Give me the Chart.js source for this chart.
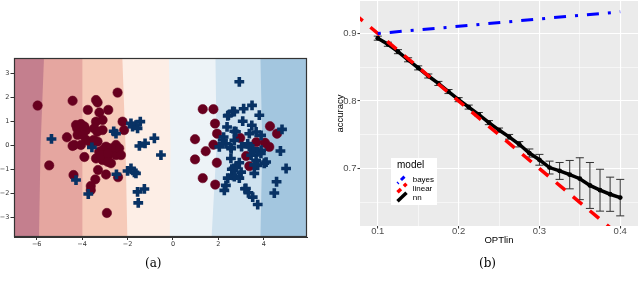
<!DOCTYPE html>
<html>
<head>
<meta charset="utf-8">
<script src="https://cdn.jsdelivr.net/npm/chart.js@4.4.0/dist/chart.umd.min.js"></script>
<style>
  html, body { margin: 0; padding: 0; background: #fff; }
  #wrap { position: relative; width: 640px; height: 288px; overflow: hidden; }
  .box { position: absolute; top: 0; width: 320px; height: 288px; }
  .cap { position: absolute; top: 256px; font-family: "DejaVu Serif", serif; font-size: 12px; color: #000; }
</style>
</head>
<body>
<div id="wrap">
  <div class="box" style="left:0"><canvas id="scatterChart"></canvas></div>
  <div class="box" style="left:320px"><canvas id="accuracyChart"></canvas></div>
  <div class="cap" style="left:145px">(a)</div>
  <div class="cap" style="left:479px">(b)</div>
</div>
<script>
// ---- panel (a): two classes over decision bands ----
var redX = [-5.96, -4.42, -2.44, -3.39, -3.32, -3.75, -3.24, -2.85, -4.05, -4.22, -3.90, -3.39, -3.47, -3.10,
            -4.67, -4.20, -4.35, -3.83, -3.61, -3.32, -2.95, -2.51, -3.90, -3.25, -2.88, -2.51, -2.73, -3.10,
            -3.30, -2.95, -2.42, -3.42, -3.62, -3.62, -4.38, -5.45, -2.91, -2.22, -2.15, -2.37, -2.29, -2.88,
            -4.27, -3.83, -3.33, -2.73, -3.09, -3.39, -4.05, -3.97, -3.49, -3.17, -2.87, -3.10, -4.42,
            1.31, 1.78, 1.85, 1.94, 0.97, 1.78, 1.44, 0.97, 1.93, 1.31, 1.86, 2.96, 3.67, 4.05, 4.24, 4.27,
            4.58, 3.22, 3.36];
var redY = [1.67, 1.87, 2.21, 1.90, 1.80, 1.49, 1.38, 1.49, 0.90, 0.72, 0.80, 1.00, 0.72, 0.65,
            0.35, 0.45, 0.03, 0.24, 0.10, 0.17, -0.04, 0.03, -0.47, -0.25, -0.46, -0.39, -0.73, -0.60,
            -1.01, -1.20, -1.31, -1.40, -1.68, -1.85, -1.22, -0.82, -2.80, 1.00, 0.65, -0.11, -0.39, -0.67,
            0.86, 0.65, 0.58, -0.11, -0.18, -0.53, 0.03, 0.45, 0.24, -0.39, -0.32, 1.07, -0.01,
            1.52, 1.52, 0.92, 0.50, 0.27, 0.04, -0.23, -0.57, -0.71, -1.35, -1.62, 0.32, 0.15, 0.12, -0.05, 0.81,
            0.50, -0.43, -0.85];
var blueX = [-5.35, -3.57, -2.61, -2.51, -1.78, -1.63, -1.44, -1.56, -1.85, -1.48, -1.23, -0.82, -0.53,
             -1.85, -1.70, -2.00, -1.63, -2.49, -4.27, -3.73, -1.56, -1.26, -1.53,
             2.92, 2.44, 2.63, 3.11, 3.48, 3.80, 3.07, 2.38, 2.70, 3.47, 3.66, 3.36, 3.88, 2.23, 2.33, 2.56,
             2.04, 2.70, 3.29, 3.51, 3.73, 3.88, 3.44, 4.73, 4.80, 4.98, 4.10, 3.66, 3.73, 2.92, 2.78, 2.59,
             3.00, 2.63, 2.92, 2.41, 2.33, 2.26, 3.17, 3.32, 3.51, 3.73, 4.56, 4.46, 2.70, 2.41, 2.77, 2.19,
             2.55, 3.02, 3.36, 3.55, 3.87, 4.02, 3.58, 2.67, 2.70, 3.21, 3.58, 2.55];
var blueY = [0.28, -0.07, 0.60, 0.50, 0.79, 0.86, 1.00, 0.72, 0.93, -0.01, 0.10, 0.31, -0.39,
             -0.94, -1.11, -1.05, -1.15, -1.19, -1.43, -2.01, -1.92, -1.80, -2.38,
             2.66, 1.27, 1.43, 1.54, 1.68, 1.27, 1.02, 0.78, 0.60, 0.85, 0.57, 0.50, 0.43, 0.36, 0.08, -0.13,
             -0.05, 0.22, 0.08, -0.13, -0.26, -0.19, -0.40, -0.22, 0.68, -0.95, -0.68, -0.61, -0.82, -0.71, -0.89, -0.98,
             -1.10, -1.23, -1.35, -1.35, -1.65, -1.86, -1.79, -1.96, -2.14, -2.45, -1.50, -1.97, 1.42, 1.24, 0.58, 0.24,
             -0.07, -0.04, -0.04, -0.25, -0.32, -0.73, -0.80, -0.94, -1.29, -1.78, -1.15, -0.53];
// band edges (x value at top of plot, at y = 0, at bottom of plot)
var bandEdgeTop    = [-7, -5.68, -3.99, -2.23, -0.18, 1.87, 3.85];
var bandEdgeMid    = [-7, -5.83, -3.99, -2.09, -0.11, 1.92, 3.93];
var bandEdgeBottom = [-7, -5.90, -3.99, -2.01, -0.14, 1.70, 3.85];
var bandColors = ["#c47f8e", "#e5a6a0", "#f6cab9", "#fdeee6", "#edf3f7", "#cfe2ef", "#a3c6df"];

// ---- panel (b): accuracy vs OPTlin ----
var optLin = [0.1, 0.1125, 0.125, 0.1375, 0.15, 0.1625, 0.175, 0.1875, 0.2, 0.2125, 0.225, 0.2375, 0.25,
              0.2625, 0.275, 0.2875, 0.3, 0.3125, 0.325, 0.3375, 0.35, 0.3625, 0.375, 0.3875, 0.4];
var nnAcc = [0.893, 0.884, 0.873, 0.861, 0.849, 0.837, 0.826, 0.814, 0.802, 0.791, 0.780, 0.768, 0.757,
             0.747, 0.736, 0.723, 0.713, 0.7015, 0.6965, 0.691, 0.685, 0.675, 0.668, 0.662, 0.657];
var nnErr = [0.003, 0.003, 0.003, 0.003, 0.003, 0.003, 0.003, 0.003, 0.003, 0.003, 0.003, 0.003, 0.003,
             0.0035, 0.004, 0.006, 0.008, 0.0095, 0.0125, 0.021, 0.031, 0.034, 0.031, 0.0253, 0.027];
var bayesX = [0.1, 0.2, 0.3, 0.4];
var bayesAcc = [0.9, 0.9105, 0.9215, 0.932];
var linearX = [0.07, 0.42];
var linearAcc = [0.93, 0.58];
var modelNames = ["bayes", "linear", "nn"];

function pts(xs, ys) {
    return xs.map(function (x, i) { return {x: x, y: ys[i]}; });
}
function minusFmt(v) {
    return v < 0 ? "\u2212" + Math.abs(v) : String(v);
}
function isMajor(v) {
    return Math.abs(v * 10 - Math.round(v * 10)) < 1e-6;
}
function noVPad(s) {
    s.paddingTop = 0;
    s.paddingBottom = 0;
}

document.addEventListener("DOMContentLoaded", function () {
    function initializeScatterChart() {
        var bands = {
            id: "bands",
            beforeDatasetsDraw: function (chart) {
                var ctx = chart.ctx, a = chart.chartArea, x = chart.scales.x, y = chart.scales.y;
                var yT = y.getPixelForValue(y.max), yM = y.getPixelForValue(0), yB = y.getPixelForValue(y.min);
                var xR = a.right + 5;
                ctx.save();
                ctx.beginPath();
                ctx.rect(a.left, a.top, a.right - a.left, a.bottom - a.top);
                ctx.clip();
                for (var i = 0; i < bandColors.length; i++) {
                    ctx.beginPath();
                    ctx.moveTo(x.getPixelForValue(bandEdgeTop[i]), yT);
                    ctx.lineTo(x.getPixelForValue(bandEdgeMid[i]), yM);
                    ctx.lineTo(x.getPixelForValue(bandEdgeBottom[i]), yB);
                    ctx.lineTo(xR, yB);
                    ctx.lineTo(xR, yT);
                    ctx.closePath();
                    ctx.fillStyle = bandColors[i];
                    ctx.fill();
                }
                ctx.restore();
            },
            afterDraw: function (chart) {
                var ctx = chart.ctx, a = chart.chartArea;
                ctx.save();
                ctx.strokeStyle = "#333";
                ctx.lineWidth = 1.2;
                ctx.strokeRect(Math.round(a.left) + 0.5, Math.round(a.top) + 0.5,
                    Math.round(a.right - a.left) - 1, Math.round(a.bottom - a.top) - 1);
                ctx.restore();
            }
        };
        var tickFont = {family: "DejaVu Sans", size: 6.5};
        new Chart(document.getElementById("scatterChart"), {
            type: "scatter",
            data: {
                datasets: [{
                    label: "class 0",
                    data: pts(redX, redY),
                    pointStyle: "circle",
                    pointRadius: 4.7,
                    backgroundColor: "#67001f",
                    borderColor: "rgba(103,0,31,0.55)",
                    borderWidth: 1,
                    order: 2
                }, {
                    label: "class 1",
                    data: pts(blueX, blueY),
                    pointStyle: "cross",
                    pointRadius: 4.9,
                    borderColor: "#083264",
                    borderWidth: 3.6,
                    order: 1
                }]
            },
            options: {
                responsive: true,
                maintainAspectRatio: false,
                animation: false,
                layout: {autoPadding: false, padding: {top: 58, right: 13, bottom: 37, left: 0}},
                plugins: {legend: {display: false}, tooltip: {enabled: false}},
                scales: {
                    x: {
                        type: "linear", min: -7, max: 5.9,
                        afterFit: function (s) { s.height = 14; },
                        ticks: {stepSize: 2, includeBounds: false, autoSkip: false, maxRotation: 0,
                                padding: 0.4, color: "#333", font: tickFont, callback: minusFmt},
                        grid: {drawOnChartArea: false, tickLength: 3, tickColor: "#333"},
                        border: {color: "#333"}
                    },
                    y: {
                        type: "linear", min: -3.8, max: 3.65,
                        afterFit: function (s) { s.width = 14; noVPad(s); },
                        ticks: {stepSize: 1, includeBounds: false, autoSkip: false,
                                padding: 1.2, color: "#333", font: tickFont, callback: minusFmt},
                        grid: {drawOnChartArea: false, tickLength: 3.5, tickColor: "#333"},
                        border: {color: "#333"}
                    }
                }
            },
            plugins: [bands]
        });
    }

    function initializeAccuracyChart() {
        var capHalf = 0.005;
        var errPts = [];
        optLin.forEach(function (x, i) {
            var lo = nnAcc[i] - nnErr[i], hi = nnAcc[i] + nnErr[i];
            errPts.push({x: x, y: lo}, {x: x, y: hi}, {x: x, y: null},
                {x: x - capHalf, y: hi}, {x: x + capHalf, y: hi}, {x: x, y: null},
                {x: x - capHalf, y: lo}, {x: x + capHalf, y: lo}, {x: x, y: null});
        });

        var panel = {
            id: "panel",
            beforeDraw: function (chart) {
                var ctx = chart.ctx, a = chart.chartArea;
                ctx.save();
                ctx.fillStyle = "#ebebeb";
                ctx.fillRect(a.left, a.top, a.right - a.left, a.bottom - a.top);
                ctx.restore();
            },
            afterDraw: function (chart) {
                // legend box inside the panel
                var ctx = chart.ctx;
                var ds = chart.data.datasets;
                ctx.save();
                ctx.fillStyle = "#ffffff";
                ctx.fillRect(71, 158, 46, 47);
                ctx.fillStyle = "#000";
                ctx.textBaseline = "middle";
                ctx.font = "10px 'Liberation Sans', Arial, sans-serif";
                ctx.fillText("model", 77, 165);
                ctx.font = "8px 'Liberation Sans', Arial, sans-serif";
                var rows = [179.3, 188.3, 197.3];
                for (var i = 0; i < 3; i++) {
                    var d = ds[i];
                    ctx.save();
                    ctx.strokeStyle = d.borderColor;
                    ctx.lineWidth = d.borderWidth;
                    ctx.setLineDash(d.borderDash ? d.borderDash.map(function (v) { return v * 0.4; }) : []);
                    ctx.beginPath();
                    ctx.moveTo(77.5, rows[i] + 4);
                    ctx.lineTo(86.5, rows[i] - 4.5);
                    ctx.stroke();
                    ctx.restore();
                    ctx.fillText(modelNames[i], 92.7, rows[i]);
                }
                ctx.restore();
            }
        };

        var axisFont = {family: "'Liberation Sans', Arial, sans-serif", size: 9.5};
        new Chart(document.getElementById("accuracyChart"), {
            type: "scatter",
            data: {
                datasets: [{
                    label: "bayes",
                    data: pts(bayesX, bayesAcc),
                    showLine: true,
                    borderColor: "#0000ff",
                    borderWidth: 3,
                    borderDash: [3, 9, 12, 9],
                    pointRadius: 0,
                    order: 0
                }, {
                    label: "linear",
                    data: pts(linearX, linearAcc),
                    showLine: true,
                    borderColor: "#ff0000",
                    borderWidth: 3.5,
                    borderDash: [12, 10],
                    pointRadius: 0,
                    order: 1
                }, {
                    label: "nn",
                    data: pts(optLin, nnAcc),
                    showLine: true,
                    borderColor: "#000000",
                    backgroundColor: "#000000",
                    borderWidth: 3.5,
                    pointRadius: 2.4,
                    pointBorderWidth: 0,
                    order: 2
                }, {
                    label: "nn error",
                    data: errPts,
                    showLine: true,
                    spanGaps: false,
                    borderColor: "#333333",
                    borderWidth: 1,
                    pointRadius: 0,
                    order: 3
                }]
            },
            options: {
                responsive: true,
                maintainAspectRatio: false,
                animation: false,
                layout: {autoPadding: false, padding: {top: 1, right: 2, bottom: 43, left: 0}},
                plugins: {legend: {display: false}, tooltip: {enabled: false}},
                scales: {
                    x: {
                        type: "linear", min: 0.078, max: 0.422,
                        afterFit: function (s) { s.height = 19; s.paddingLeft = 0; s.paddingRight = 0; },
                        ticks: {stepSize: 0.05, includeBounds: false, autoSkip: false, maxRotation: 0,
                                padding: -3, color: "#4d4d4d", font: axisFont,
                                callback: function (v) { return isMajor(v) ? v.toFixed(1) : ""; }},
                        grid: {
                            color: "#ffffff",
                            lineWidth: function (c) { return c.tick && isMajor(c.tick.value) ? 1.1 : 0.55; },
                            tickColor: function (c) { return c.tick && isMajor(c.tick.value) ? "#333" : "rgba(0,0,0,0)"; },
                            tickLength: 2.5,
                            tickWidth: 1
                        },
                        border: {display: false},
                        title: {display: true, text: "OPTlin", color: "#000",
                                font: {family: axisFont.family, size: 9.5, lineHeight: 1},
                                padding: {top: 0, bottom: 0}}
                    },
                    y: {
                        type: "linear", min: 0.615, max: 0.948,
                        afterFit: function (s) { s.width = 40; noVPad(s); },
                        ticks: {stepSize: 0.05, includeBounds: false, autoSkip: false,
                                padding: 1, color: "#4d4d4d", font: axisFont,
                                callback: function (v) { return isMajor(v) ? v.toFixed(1) : ""; }},
                        grid: {
                            color: "#ffffff",
                            lineWidth: function (c) { return c.tick && isMajor(c.tick.value) ? 1.1 : 0.55; },
                            tickColor: function (c) { return c.tick && isMajor(c.tick.value) ? "#333" : "rgba(0,0,0,0)"; },
                            tickLength: 2.5,
                            tickWidth: 1
                        },
                        border: {display: false},
                        title: {display: true, text: "accuracy", color: "#000",
                                font: {family: axisFont.family, size: 9.5, lineHeight: 1},
                                padding: {top: 15.75, bottom: 0}}
                    }
                }
            },
            plugins: [panel]
        });
    }

    initializeScatterChart();
    initializeAccuracyChart();
});
</script>
</body>
</html>
